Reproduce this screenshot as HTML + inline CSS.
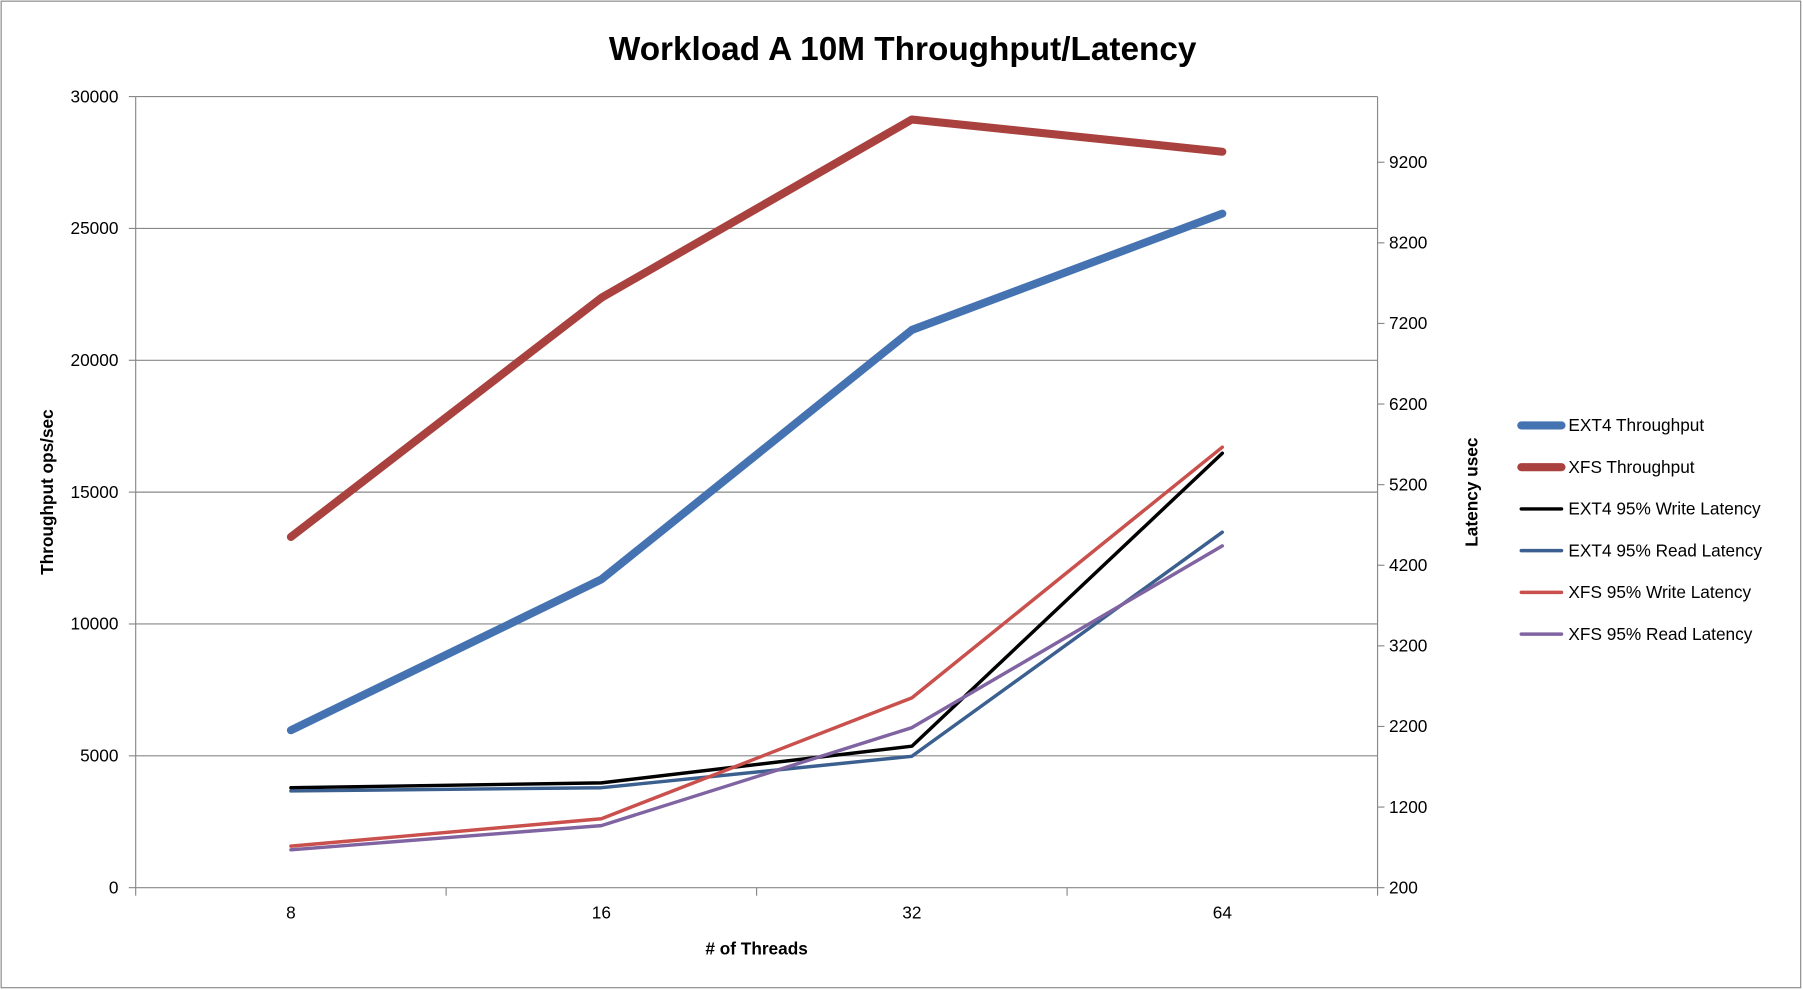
<!DOCTYPE html>
<html><head><meta charset="utf-8"><style>
html,body{margin:0;padding:0;background:#fff;}
svg{display:block;font-family:"Liberation Sans",sans-serif;}
</style></head><body>
<svg id="chart" width="1803" height="990" viewBox="0 0 1568 861" preserveAspectRatio="none">
<rect x="1" y="1" width="1565" height="858" fill="#fff" stroke="#888" stroke-width="1"/>
<text x="785" y="52" font-size="29" font-weight="bold" text-anchor="middle">Workload A 10M Throughput/Latency</text>
<g id="grid"></g>
<g id="axes"></g>
<g id="series"></g>
<g id="legend"></g>
</svg>
<script>
const categories = ['8','16','32','64'];
const leftTicks = [0,5000,10000,15000,20000,25000,30000];
const rightTicks = [200,1200,2200,3200,4200,5200,6200,7200,8200,9200];
const ext4Throughput = [5970,11690,21150,25560];
const xfsThroughput = [13300,22370,29130,27910];
const ext4Write = [1440,1500,1955,5590];
const ext4Read = [1400,1440,1830,4610];
const xfsWrite = [715,1055,2555,5665];
const xfsRead = [670,970,2185,4440];

const NS='http://www.w3.org/2000/svg';
const X0=118, X1=1198, Y0=772, Y1=84;
const catW=(X1-X0)/categories.length;
const xPos=i=>X0+catW*(i+0.5);
const yL=v=>Y0-(v-0)/30000*(Y0-Y1);
const yR=v=>Y0-(v-200)/1000*70.1;
function mk(tag,attrs,parent){const e=document.createElementNS(NS,tag);for(const k in attrs)e.setAttribute(k,attrs[k]);parent.appendChild(e);return e;}
const grid=document.getElementById('grid'), axes=document.getElementById('axes'), ser=document.getElementById('series'), leg=document.getElementById('legend');

leftTicks.forEach(v=>{
  const y=yL(v);
  if(v>0){const l=mk('line',{x1:X0,x2:X1,y1:y,y2:y,stroke:'#888','stroke-width':1},grid);
  
  }
  const t=mk('text',{x:103,y:y+5,'font-size':15,'text-anchor':'end'},axes);t.textContent=v;
  
  
  mk('line',{x1:X0-6,x2:X0,y1:y,y2:y,stroke:'#888'},axes);
});
rightTicks.forEach(v=>{
  const y=yR(v);
  const t=mk('text',{x:1208,y:y+5,'font-size':15},axes);t.textContent=v;
  
  
  mk('line',{x1:X1,x2:X1+6,y1:y,y2:y,stroke:'#888'},axes);
});
mk('line',{x1:X0,x2:X0,y1:Y1,y2:Y0,stroke:'#888'},axes);
mk('line',{x1:X1,x2:X1,y1:Y1,y2:Y0,stroke:'#888'},axes);
mk('line',{x1:X0,x2:X1,y1:Y0,y2:Y0,stroke:'#888'},axes);
for(let i=0;i<=categories.length;i++){const x=X0+catW*i;mk('line',{x1:x,x2:x,y1:Y0,y2:Y0+7,stroke:'#888'},axes);}
categories.forEach((c,i)=>{const t=mk('text',{x:xPos(i),y:799,'font-size':15,'text-anchor':'middle'},axes);t.textContent=c;
  
  });
let t=mk('text',{x:658,y:830,'font-size':15,'font-weight':'bold','text-anchor':'middle'},axes);t.textContent='# of Threads';


t=mk('text',{x:0,y:0,'font-size':15,'font-weight':'bold','text-anchor':'middle',transform:'translate(46,428) rotate(-90)'},axes);t.textContent='Throughput ops/sec';


t=mk('text',{x:0,y:0,'font-size':15,'font-weight':'bold','text-anchor':'middle',transform:'translate(1285,428) rotate(-90)'},axes);t.textContent='Latency usec';



const seriesDefs=[
  {name:'EXT4 Throughput',data:ext4Throughput,y:yL,color:'#4573B1',w:7,dn:'ext4-throughput-line'},
  {name:'XFS Throughput',data:xfsThroughput,y:yL,color:'#A9413E',w:7,dn:'xfs-throughput-line'},
  {name:'EXT4 95% Write Latency',data:ext4Write,y:yR,color:'#000000',w:3,dn:'ext4-write-latency-line'},
  {name:'EXT4 95% Read Latency',data:ext4Read,y:yR,color:'#3B6090',w:3,dn:'ext4-read-latency-line'},
  {name:'XFS 95% Write Latency',data:xfsWrite,y:yR,color:'#C9504C',w:3,dn:'xfs-write-latency-line'},
  {name:'XFS 95% Read Latency',data:xfsRead,y:yR,color:'#8064A2',w:3,dn:'xfs-read-latency-line'}
];
seriesDefs.forEach((s,k)=>{
  const pts=s.data.map((v,i)=>xPos(i)+','+s.y(v)).join(' ');
  const p=mk('polyline',{points:pts,fill:'none',stroke:s.color,'stroke-width':s.w,'stroke-linejoin':'round','stroke-linecap':'round'},ser);
  
  
  const ly=370+k*36.3;
  const g=mk('g',{},leg);
  
  
  mk('line',{x1:1323,x2:1358,y1:ly,y2:ly,stroke:s.color,'stroke-width':s.w,'stroke-linecap':'round'},g);
  const tt=mk('text',{x:1364,y:ly+5,'font-size':15},g);tt.textContent=s.name;
});
</script>
</body></html>
